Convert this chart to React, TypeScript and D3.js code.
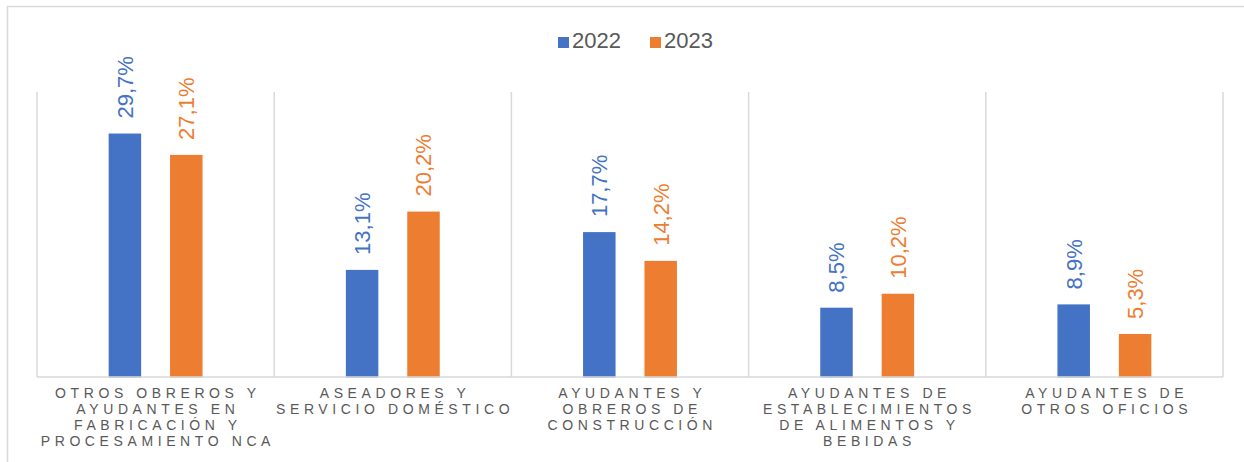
import React from "react";
import * as d3 from "d3";

const categories: string[][] = [
  ["OTROS OBREROS Y", "AYUDANTES EN", "FABRICACIÓN Y", "PROCESAMIENTO NCA"],
  ["ASEADORES Y", "SERVICIO DOMÉSTICO"],
  ["AYUDANTES Y", "OBREROS DE", "CONSTRUCCIÓN"],
  ["AYUDANTES DE", "ESTABLECIMIENTOS", "DE ALIMENTOS Y", "BEBIDAS"],
  ["AYUDANTES DE", "OTROS OFICIOS"],
];
const series2022: number[] = [29.7, 13.1, 17.7, 8.5, 8.9];
const series2023: number[] = [27.1, 20.2, 14.2, 10.2, 5.3];
const seriesNames: string[] = ["2022", "2023"];
const seriesColors: string[] = ["#4472C4", "#ED7D31"];

const W = 1244;
const H = 462;
const plot = { left: 37, right: 1223, top: 92, bottom: 377 };

export default function App() {
  const x = d3
    .scaleBand<number>()
    .domain(categories.map((_, i) => i))
    .range([plot.left, plot.right])
    .padding(0);
  const y = d3.scaleLinear().domain([0, 35]).range([plot.bottom + 0.5, 90]);
  const barW = 32.5;
  const offsets = [-30.7, 30.7];
  const allSeries = [series2022, series2023];
  const fmt = (v: number) => v.toFixed(1).replace(".", ",") + "%";
  const boundaries = d3.range(categories.length + 1).map((i) => plot.left + i * x.bandwidth());
  const ls = 4.6;

  return (
    <svg
      width={W}
      height={H}
      style={{ position: "absolute", left: 0, top: 0, display: "block", background: "#fff" }}
      fontFamily="'Liberation Sans', Arial, sans-serif"
    >
      <rect x={7.5} y={6.5} width={W + 20} height={H + 20} fill="#fff" stroke="#D9D9D9" strokeWidth={1.5} />
      {/* grid */}
      {boundaries.map((bx, i) => (
        <line key={i} x1={bx} x2={bx} y1={plot.top} y2={plot.bottom} stroke="#D9D9D9" strokeWidth={1.5} />
      ))}
      {/* bars */}
      {allSeries.map((s, si) =>
        s.map((v, i) => {
          const cx = (x(i) as number) + x.bandwidth() / 2 + offsets[si];
          return (
            <rect
              key={`b${si}-${i}`}
              x={cx - barW / 2}
              y={y(v)}
              width={barW}
              height={y(0) - y(v)}
              fill={seriesColors[si]}
            />
          );
        })
      )}
      <line x1={plot.left} x2={plot.right} y1={plot.bottom} y2={plot.bottom} stroke="#D9D9D9" strokeWidth={1.5} />
      {/* data labels */}
      {allSeries.map((s, si) =>
        s.map((v, i) => {
          const cx = (x(i) as number) + x.bandwidth() / 2 + offsets[si];
          const ty = y(v) - 15;
          return (
            <text
              key={`l${si}-${i}`}
              transform={`translate(${cx},${ty}) rotate(-90)`}
              dy="0.36em"
              fontSize={22}
              fill={seriesColors[si]}
              textAnchor="start"
            >
              {fmt(v)}
            </text>
          );
        })
      )}
      {/* category labels */}
      {categories.map((lines, i) => {
        const cx = (x(i) as number) + x.bandwidth() / 2;
        return (
          <text key={`c${i}`} fontSize={14} fill="#595959" textAnchor="middle" letterSpacing={ls}>
            {lines.map((ln, li) => (
              <tspan key={li} x={cx + ls / 2} y={398 + li * 16}>
                {ln}
              </tspan>
            ))}
          </text>
        );
      })}
      {/* legend */}
      <g>
        <rect x={558} y={37} width={11} height={11} fill={seriesColors[0]} />
        <text x={572} y={48} fontSize={22} fill="#595959">{seriesNames[0]}</text>
        <rect x={650} y={37} width={11} height={11} fill={seriesColors[1]} />
        <text x={664} y={48} fontSize={22} fill="#595959">{seriesNames[1]}</text>
      </g>
    </svg>
  );
}
